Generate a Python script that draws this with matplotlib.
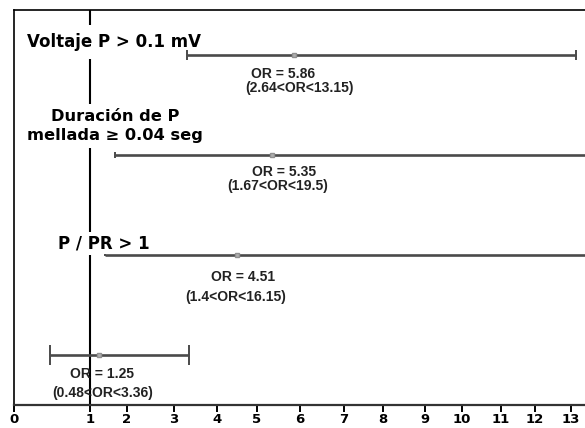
import matplotlib
matplotlib.use("Agg")
import matplotlib.pyplot as plt
import numpy as np

# datos (odds ratio con IC 95%)
factores = ["Voltaje P > 0.1 mV", "Duración de P\nmellada ≥ 0.04 seg", "P / PR > 1", ""]
or_vals = [5.86, 5.35, 4.51, 1.25]
ic_bajo = [3.30, 1.67, 1.40, 0.48]
ic_alto = [13.15, 19.5, 16.15, 3.36]
or_txt = ["OR = 5.86", "OR = 5.35", "OR = 4.51", "OR = 1.25"]
ic_txt = ["(2.64<OR<13.15)", "(1.67<OR<19.5)", "(1.4<OR<16.15)", "(0.48<OR<3.36)"]
ticks = list(range(14))

# el eje original no es lineal: posicion (px) de cada marca
tick_px = np.array([14, 90, 127, 174, 217, 257, 300, 344, 383, 425, 462, 501, 535, 571], float)
tick_v = np.array(ticks, float)


def fwd(x):
    x = np.asarray(x, float)
    y = np.interp(x, tick_v, tick_px)
    y = np.where(x > 13, tick_px[-1] + (x - 13) * (tick_px[-1] - tick_px[-2]), y)
    y = np.where(x < 0, tick_px[0] + x * (tick_px[1] - tick_px[0]), y)
    return y


def inv(p):
    p = np.asarray(p, float)
    x = np.interp(p, tick_px, tick_v)
    x = np.where(p > tick_px[-1], 13 + (p - tick_px[-1]) / (tick_px[-1] - tick_px[-2]), x)
    x = np.where(p < tick_px[0], (p - tick_px[0]) / (tick_px[1] - tick_px[0]), x)
    return x


fig = plt.figure(figsize=(5.85, 4.28), dpi=100)
ax = fig.add_axes([14 / 585, 23 / 428, 571 / 585, 395 / 428])
ax.set_xscale("function", functions=(fwd, inv))
ax.set_xlim(0, 13.39)
ax.set_ylim(0, 3.95)

filas = [3.5, 2.5, 1.5, 0.5]
caps = [3.5, 2.5, 1.0, 7.5]

ax.axvline(1, color="black", lw=1.5, zorder=1)

for i in range(4):
    ax.errorbar(or_vals[i], filas[i],
                xerr=[[or_vals[i] - ic_bajo[i]], [ic_alto[i] - or_vals[i]]],
                fmt="s", ms=3.5, mfc="#b0b0b0", mec="#909090",
                ecolor="#4a4a4a", elinewidth=1.9, capsize=caps[i], capthick=1.4,
                zorder=4)

# etiquetas de los factores (fondo blanco que corta la linea de OR=1)
ax.text(0.17, 3.63, factores[0], fontsize=12, fontweight="bold", ha="left", va="center",
        bbox=dict(boxstyle="square,pad=0.5", fc="white", ec="none"), zorder=3)
ax.text(1.68, 2.79, factores[1], fontsize=11.7, fontweight="bold", ha="center", va="center",
        multialignment="center", linespacing=1.35,
        bbox=dict(boxstyle="square,pad=0.3", fc="white", ec="none"), zorder=3)
ax.text(0.58, 1.62, factores[2], fontsize=12, fontweight="bold", ha="left", va="center",
        bbox=dict(boxstyle="square,pad=0.15", fc="white", ec="none"), zorder=3)

# textos de OR
or_pos = [(5.6, 3.315), (5.63, 2.33), (4.65, 1.28), (1.32, 0.305)]
ic_pos = [(6.0, 3.175), (5.49, 2.19), (4.48, 1.08), (1.35, 0.125)]
for i in range(4):
    ax.text(or_pos[i][0], or_pos[i][1], or_txt[i], family="Liberation Sans", fontsize=10,
            fontweight="bold", color="#222222", ha="center", va="center", zorder=5)
    ax.text(ic_pos[i][0], ic_pos[i][1], ic_txt[i], family="Liberation Sans", fontsize=10,
            fontweight="bold", color="#222222", ha="center", va="center", zorder=5)

ax.set_xticks(ticks)
ax.set_xticklabels([str(t) for t in ticks], fontsize=9.5, fontweight="bold")
ax.tick_params(axis="x", direction="out", length=5, width=1.4, pad=1, colors="black")
ax.set_yticks([])
ax.spines["right"].set_visible(False)
ax.spines["left"].set_linewidth(1.2)
ax.spines["top"].set_linewidth(1.2)
ax.spines["bottom"].set_linewidth(1.6)
ax.spines["bottom"].set_color("#333333")

fig.savefig("out.png", dpi=100)
